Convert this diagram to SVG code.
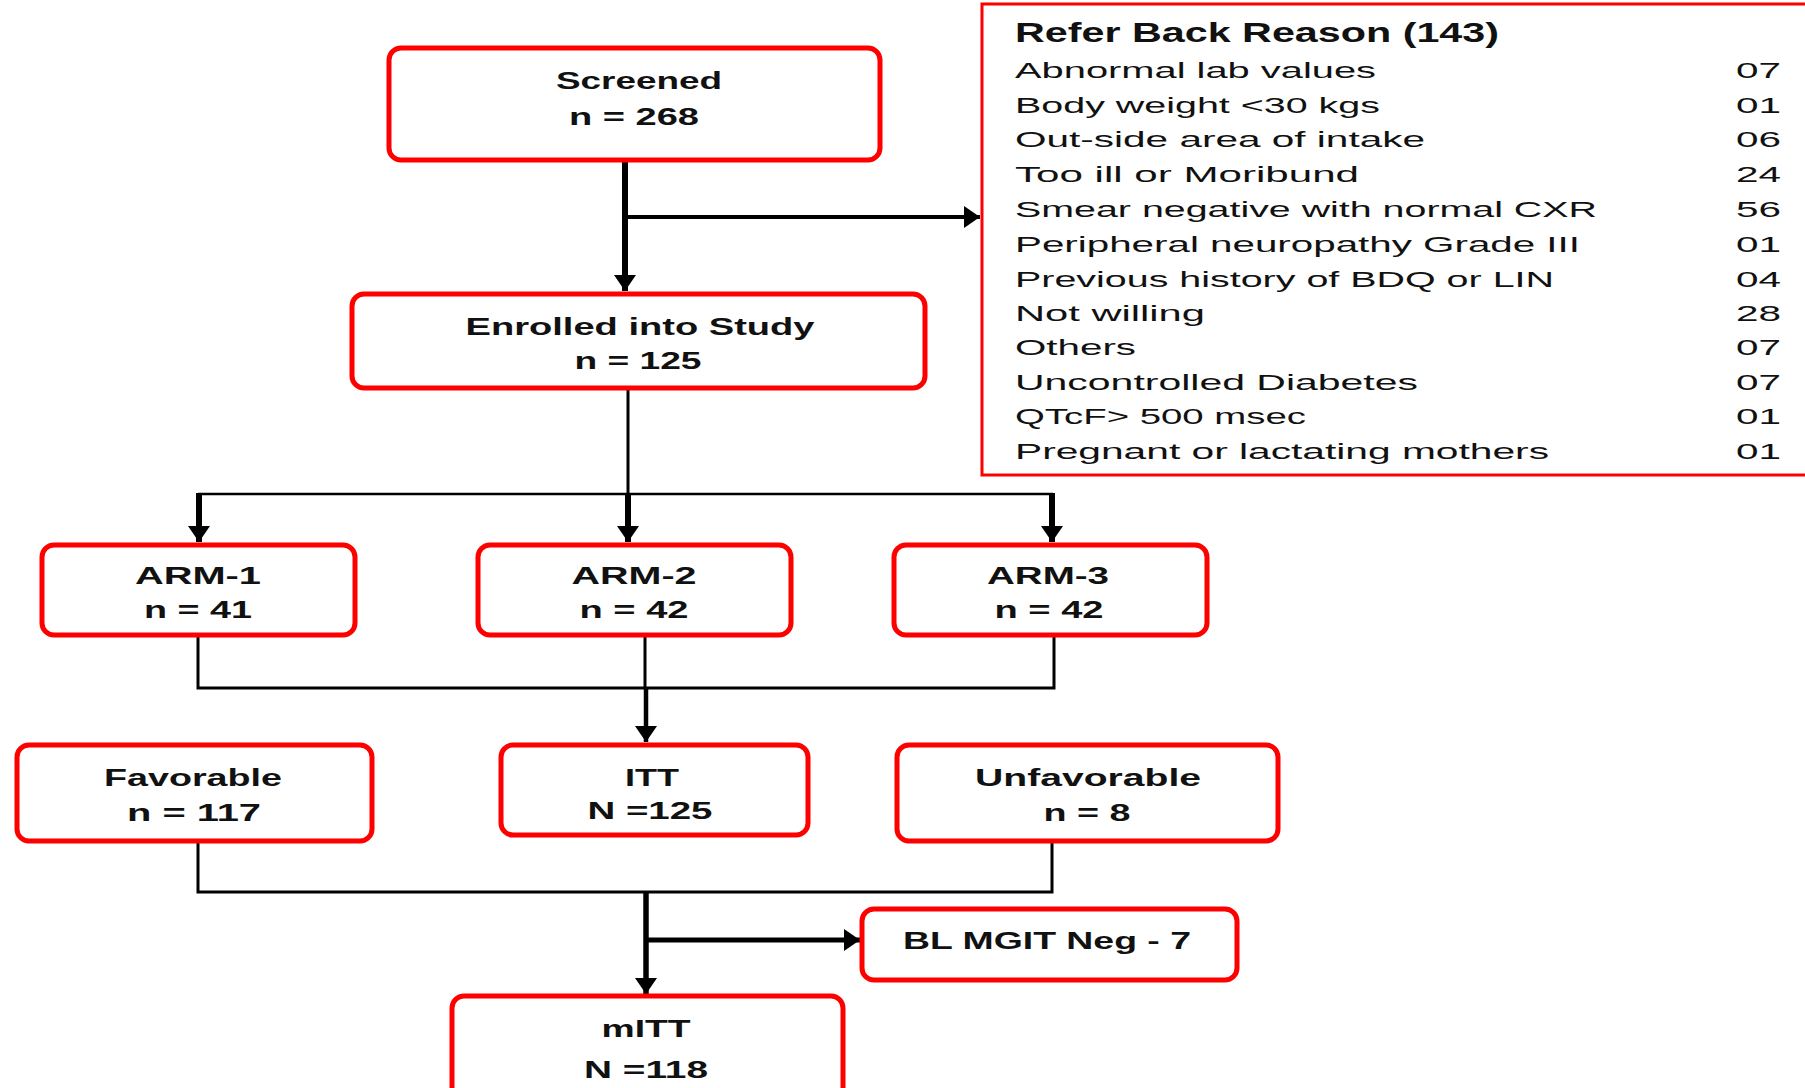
<svg xmlns="http://www.w3.org/2000/svg" width="1805" height="1088" viewBox="0 0 1805 1088">
<style>
.box{fill:#fff;stroke:#ff0000;stroke-width:5}
.bt{font-family:"Liberation Sans",Arial,sans-serif;font-weight:bold;font-size:24px;fill:#111;text-anchor:middle}
.rt{font-family:"Liberation Sans",Arial,sans-serif;font-size:22px;fill:#111}
.rh{font-family:"Liberation Sans",Arial,sans-serif;font-size:28px;font-weight:bold;fill:#111}
.ln{fill:none;stroke:#000;stroke-linecap:butt}
</style>
<defs>
<marker id="ah" markerUnits="userSpaceOnUse" viewBox="0 0 16 22" refX="16" refY="11" markerWidth="16" markerHeight="22" orient="auto">
<path d="M0,0 L16,11 L0,22 z" fill="#000"/>
</marker>
</defs>
<rect width="1805" height="1088" fill="#fff"/>

<g id="connectors">
<line class="ln" x1="625" y1="160" x2="625" y2="291" stroke-width="6" marker-end="url(#ah)"/>
<line class="ln" x1="625" y1="217" x2="980" y2="217" stroke-width="4" marker-end="url(#ah)"/>
<line class="ln" x1="628" y1="388" x2="628" y2="494" stroke-width="3"/>
<line class="ln" x1="198" y1="494" x2="1053" y2="494" stroke-width="2.5"/>
<line class="ln" x1="199" y1="493" x2="199" y2="542" stroke-width="6" marker-end="url(#ah)"/>
<line class="ln" x1="628" y1="493" x2="628" y2="542" stroke-width="6" marker-end="url(#ah)"/>
<line class="ln" x1="1052" y1="493" x2="1052" y2="542" stroke-width="6" marker-end="url(#ah)"/>
<polyline class="ln" points="198,635 198,688 1054,688 1054,635" stroke-width="3"/>
<line class="ln" x1="645" y1="635" x2="645" y2="688" stroke-width="3"/>
<line class="ln" x1="646" y1="688" x2="646" y2="742" stroke-width="4.5" marker-end="url(#ah)"/>
<polyline class="ln" points="198,841 198,892 1052,892 1052,841" stroke-width="3"/>
<line class="ln" x1="646" y1="892" x2="646" y2="994" stroke-width="5.5" marker-end="url(#ah)"/>
<line class="ln" x1="646" y1="940" x2="860" y2="940" stroke-width="5" marker-end="url(#ah)"/>
</g>

<g id="screened">
<rect class="box" x="389" y="48" width="491" height="112" rx="12"/>
<text class="bt" x="639" y="89" textLength="166" lengthAdjust="spacingAndGlyphs">Screened</text>
<text class="bt" x="634" y="125" textLength="130" lengthAdjust="spacingAndGlyphs">n = 268</text>
</g>

<g id="enrolled">
<rect class="box" x="352" y="294" width="573" height="94" rx="12"/>
<text class="bt" x="640" y="335" textLength="349" lengthAdjust="spacingAndGlyphs">Enrolled into Study</text>
<text class="bt" x="638" y="369" textLength="127" lengthAdjust="spacingAndGlyphs">n = 125</text>
</g>

<g id="refer-back">
<rect x="982" y="4" width="840" height="471" fill="#fff" stroke="#ff0000" stroke-width="3"/>
<text class="rh" x="1015" y="42" textLength="484" lengthAdjust="spacingAndGlyphs">Refer Back Reason (143)</text>
<g class="rt">
<text x="1015" y="78" textLength="361" lengthAdjust="spacingAndGlyphs">Abnormal lab values</text>
<text x="1015" y="113" textLength="365" lengthAdjust="spacingAndGlyphs">Body weight &lt;30 kgs</text>
<text x="1015" y="147" textLength="410" lengthAdjust="spacingAndGlyphs">Out-side area of intake</text>
<text x="1015" y="182" textLength="344" lengthAdjust="spacingAndGlyphs">Too ill or Moribund</text>
<text x="1015" y="217" textLength="582" lengthAdjust="spacingAndGlyphs">Smear negative with normal CXR</text>
<text x="1015" y="252" textLength="565" lengthAdjust="spacingAndGlyphs">Peripheral neuropathy Grade III</text>
<text x="1015" y="287" textLength="539" lengthAdjust="spacingAndGlyphs">Previous history of BDQ or LIN</text>
<text x="1015" y="321" textLength="190" lengthAdjust="spacingAndGlyphs">Not willing</text>
<text x="1015" y="355" textLength="121" lengthAdjust="spacingAndGlyphs">Others</text>
<text x="1015" y="390" textLength="403" lengthAdjust="spacingAndGlyphs">Uncontrolled Diabetes</text>
<text x="1015" y="424" textLength="291" lengthAdjust="spacingAndGlyphs">QTcF&gt; 500 msec</text>
<text x="1015" y="459" textLength="534" lengthAdjust="spacingAndGlyphs">Pregnant or lactating mothers</text>
</g>
<g class="rt">
<text x="1736" y="78" textLength="45" lengthAdjust="spacingAndGlyphs">07</text>
<text x="1736" y="113" textLength="45" lengthAdjust="spacingAndGlyphs">01</text>
<text x="1736" y="147" textLength="45" lengthAdjust="spacingAndGlyphs">06</text>
<text x="1736" y="182" textLength="45" lengthAdjust="spacingAndGlyphs">24</text>
<text x="1736" y="217" textLength="45" lengthAdjust="spacingAndGlyphs">56</text>
<text x="1736" y="252" textLength="45" lengthAdjust="spacingAndGlyphs">01</text>
<text x="1736" y="287" textLength="45" lengthAdjust="spacingAndGlyphs">04</text>
<text x="1736" y="321" textLength="45" lengthAdjust="spacingAndGlyphs">28</text>
<text x="1736" y="355" textLength="45" lengthAdjust="spacingAndGlyphs">07</text>
<text x="1736" y="390" textLength="45" lengthAdjust="spacingAndGlyphs">07</text>
<text x="1736" y="424" textLength="45" lengthAdjust="spacingAndGlyphs">01</text>
<text x="1736" y="459" textLength="45" lengthAdjust="spacingAndGlyphs">01</text>
</g>
</g>

<g id="arm1">
<rect class="box" x="42" y="545" width="313" height="90" rx="12"/>
<text class="bt" x="198" y="584" textLength="126" lengthAdjust="spacingAndGlyphs">ARM-1</text>
<text class="bt" x="198" y="618" textLength="108" lengthAdjust="spacingAndGlyphs">n = 41</text>
</g>
<g id="arm2">
<rect class="box" x="478" y="545" width="313" height="90" rx="12"/>
<text class="bt" x="634" y="584" textLength="125" lengthAdjust="spacingAndGlyphs">ARM-2</text>
<text class="bt" x="634" y="618" textLength="109" lengthAdjust="spacingAndGlyphs">n = 42</text>
</g>
<g id="arm3">
<rect class="box" x="894" y="545" width="313" height="90" rx="12"/>
<text class="bt" x="1048" y="584" textLength="122" lengthAdjust="spacingAndGlyphs">ARM-3</text>
<text class="bt" x="1049" y="618" textLength="109" lengthAdjust="spacingAndGlyphs">n = 42</text>
</g>

<g id="favorable">
<rect class="box" x="17" y="745" width="355" height="96" rx="12"/>
<text class="bt" x="193" y="786" textLength="178" lengthAdjust="spacingAndGlyphs">Favorable</text>
<text class="bt" x="194" y="821" textLength="134" lengthAdjust="spacingAndGlyphs">n = 117</text>
</g>
<g id="itt">
<rect class="box" x="501" y="745" width="307" height="90" rx="12"/>
<text class="bt" x="652" y="786" textLength="54" lengthAdjust="spacingAndGlyphs">ITT</text>
<text class="bt" x="650" y="819" textLength="125" lengthAdjust="spacingAndGlyphs">N =125</text>
</g>
<g id="unfavorable">
<rect class="box" x="897" y="745" width="381" height="96" rx="12"/>
<text class="bt" x="1088" y="786" textLength="226" lengthAdjust="spacingAndGlyphs">Unfavorable</text>
<text class="bt" x="1087" y="821" textLength="87" lengthAdjust="spacingAndGlyphs">n = 8</text>
</g>

<g id="bl-mgit">
<rect class="box" x="862" y="909" width="375" height="71" rx="12"/>
<text class="bt" x="1047" y="949" textLength="288" lengthAdjust="spacingAndGlyphs">BL MGIT Neg - 7</text>
</g>

<g id="mitt">
<rect class="box" x="452" y="996" width="391" height="110" rx="12"/>
<text class="bt" x="646" y="1037" textLength="89" lengthAdjust="spacingAndGlyphs">mITT</text>
<text class="bt" x="646" y="1078" textLength="124" lengthAdjust="spacingAndGlyphs">N =118</text>
</g>
</svg>
